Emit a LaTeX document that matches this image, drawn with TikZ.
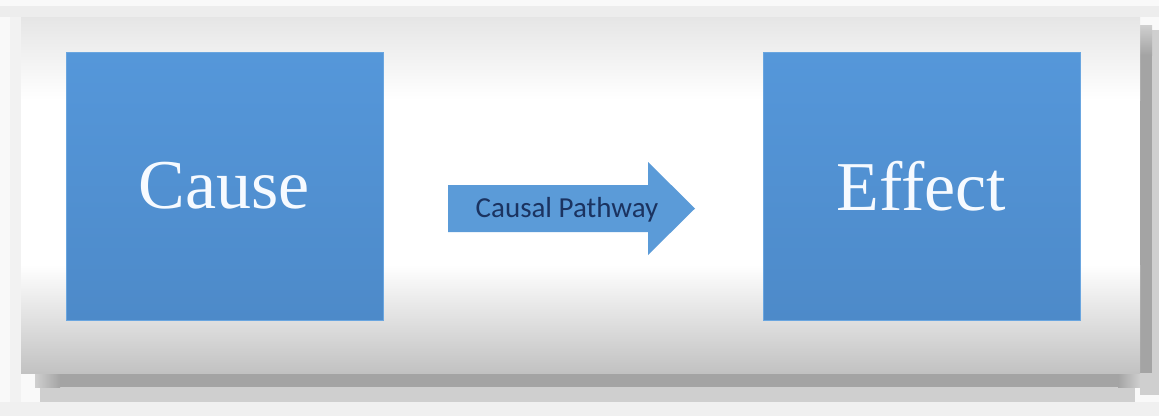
\documentclass[tikz,border=0pt]{standalone}
\usepackage{fontspec}
\setmainfont{Liberation Serif}
\newfontfamily\labelfont{Carlito}
\begin{document}
\begin{tikzpicture}[x=1pt,y=-1pt,
  bluebox/.style={rectangle, inner sep=0pt, minimum width=317pt, minimum height=268pt,
    top color=boxtop, bottom color=boxbottom, draw=boxedge, line width=0.6pt,
    text=boxtext, font=\fontsize{70}{70}\selectfont},
  pathlabel/.style={inner sep=0pt, anchor=base, text=labeltext,
    font=\labelfont\fontsize{29}{29}\selectfont}]
\definecolor{boxtop}{HTML}{5597DA}
\definecolor{boxbottom}{HTML}{4D8AC9}
\definecolor{boxedge}{HTML}{6AA6E0}
\definecolor{boxtext}{HTML}{F6FAFF}
\definecolor{arrowfill}{HTML}{5B9BD8}
\definecolor{labeltext}{HTML}{1B3360}
\definecolor{pagebg}{HTML}{F9F9F9}
\definecolor{shadowdark}{HTML}{A4A4A4}
\definecolor{shadowlight}{HTML}{CFCFCF}

% page and frame
\useasboundingbox (0,0) rectangle (1159,416);
\fill[pagebg] (0,0) rectangle (1159,416);
\fill[black!7] (0,6) rectangle (1159,17);
\fill[black!5] (10,17) rectangle (21,402);
\fill[black!6] (0,402) rectangle (1159,416);

% drop shadow of the panel
\fill[shadowlight] (40,373) rectangle (1135,402);
\fill[shadowlight] (1140,30) rectangle (1159,395);
\shade[left color=shadowlight, right color=shadowdark] (35,373) rectangle (60,387);
\fill[shadowdark] (60,373) rectangle (1118,387);
\shade[left color=shadowdark, right color=shadowlight] (1118,373) rectangle (1140,387);
\shade[top color=shadowlight, bottom color=shadowdark] (1140,25) rectangle (1152,55);
\fill[shadowdark] (1140,55) rectangle (1152,373);

% panel with its vertical gradient
\fill[white] (21,17) rectangle (1140,373);
\shade[top color=black!10, bottom color=white] (21,17) rectangle (1140,100);
\shade[top color=white, bottom color=black!24] (21,265) rectangle (1140,373);

% boxes
\node[bluebox] (cause) at (224.5,186) {Cause};
\node[bluebox] (effect) at (921.5,186) {Effect};

% block arrow with its label
\fill[arrowfill] (448,185) -- (648,185) -- (648,162) -- (695,208.5)
  -- (648,255) -- (648,232) -- (448,232) -- cycle;
\node[pathlabel] (pathway) at (567,217) {Causal Pathway};
\end{tikzpicture}
\end{document}
